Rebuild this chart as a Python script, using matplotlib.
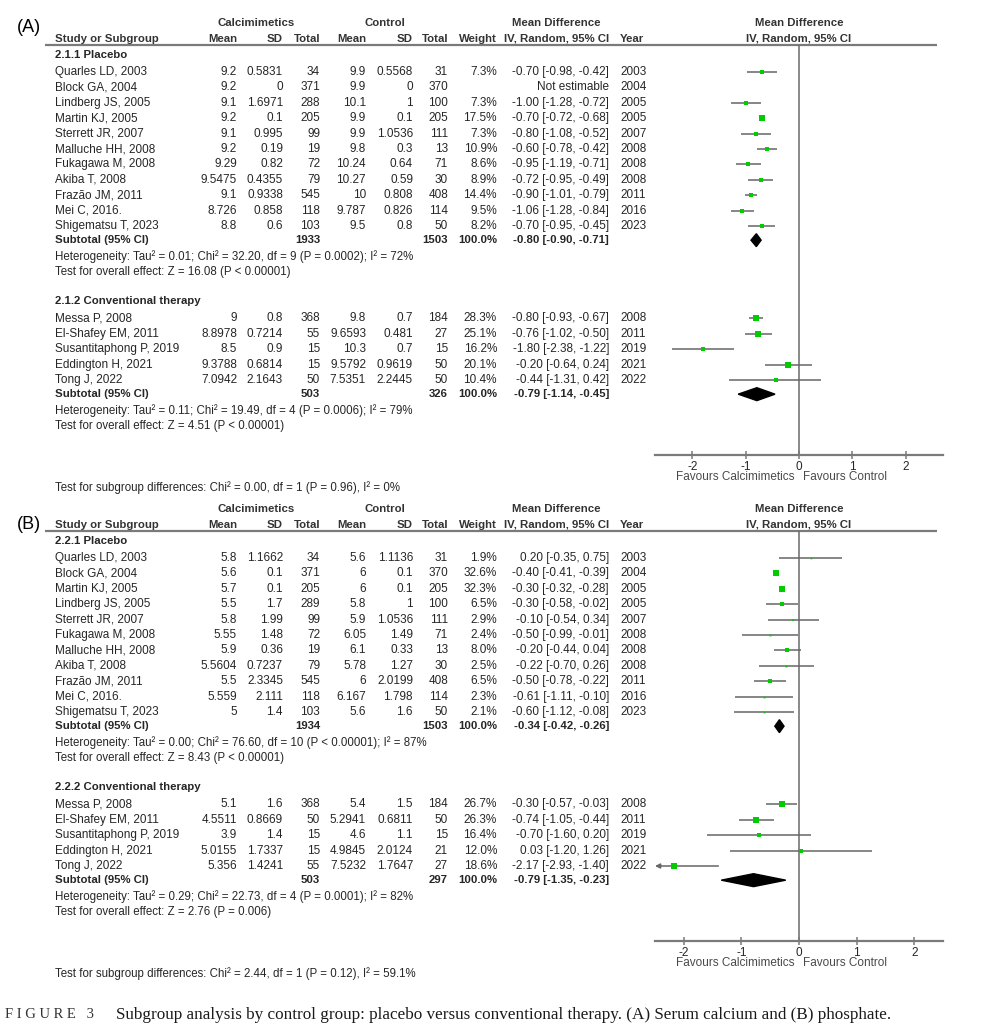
import matplotlib

matplotlib.use("Agg")

import matplotlib.pyplot as plt
from matplotlib.patches import Polygon

plt.rcParams["font.family"] = ["Liberation Sans", "DejaVu Sans"]

# ---------------- Panel A: serum calcium ----------------
A1_LABEL = "2.1.1 Placebo"
A1_STUDY = ["Quarles LD, 2003", "Block GA, 2004", "Lindberg JS, 2005", "Martin KJ, 2005",
            "Sterrett JR, 2007", "Malluche HH, 2008", "Fukagawa M, 2008", "Akiba T, 2008",
            "Frazão JM, 2011", "Mei C, 2016.", "Shigematsu T, 2023"]
A1_CAL_MEAN = ["9.2", "9.2", "9.1", "9.2", "9.1", "9.2", "9.29", "9.5475", "9.1", "8.726", "8.8"]
A1_CAL_SD = ["0.5831", "0", "1.6971", "0.1", "0.995", "0.19", "0.82", "0.4355", "0.9338", "0.858", "0.6"]
A1_CAL_N = [34, 371, 288, 205, 99, 19, 72, 79, 545, 118, 103]
A1_CTL_MEAN = ["9.9", "9.9", "10.1", "9.9", "9.9", "9.8", "10.24", "10.27", "10", "9.787", "9.5"]
A1_CTL_SD = ["0.5568", "0", "1", "0.1", "1.0536", "0.3", "0.64", "0.59", "0.808", "0.826", "0.8"]
A1_CTL_N = [31, 370, 100, 205, 111, 13, 71, 30, 408, 114, 50]
A1_WEIGHT = [7.3, None, 7.3, 17.5, 7.3, 10.9, 8.6, 8.9, 14.4, 9.5, 8.2]
A1_MD = [-0.70, None, -1.00, -0.70, -0.80, -0.60, -0.95, -0.72, -0.90, -1.06, -0.70]
A1_LO = [-0.98, None, -1.28, -0.72, -1.08, -0.78, -1.19, -0.95, -1.01, -1.28, -0.95]
A1_HI = [-0.42, None, -0.72, -0.68, -0.52, -0.42, -0.71, -0.49, -0.79, -0.84, -0.45]
A1_YEAR = [2003, 2004, 2005, 2005, 2007, 2008, 2008, 2008, 2011, 2016, 2023]
A1_TOTAL = [1933, 1503]
A1_POOLED = [-0.80, -0.90, -0.71]
A1_HET = "Heterogeneity: Tau² = 0.01; Chi² = 32.20, df = 9 (P = 0.0002); I² = 72%"
A1_TEST = "Test for overall effect: Z = 16.08 (P < 0.00001)"

A2_LABEL = "2.1.2 Conventional therapy"
A2_STUDY = ["Messa P, 2008", "El-Shafey EM, 2011", "Susantitaphong P, 2019", "Eddington H, 2021", "Tong J, 2022"]
A2_CAL_MEAN = ["9", "8.8978", "8.5", "9.3788", "7.0942"]
A2_CAL_SD = ["0.8", "0.7214", "0.9", "0.6814", "2.1643"]
A2_CAL_N = [368, 55, 15, 15, 50]
A2_CTL_MEAN = ["9.8", "9.6593", "10.3", "9.5792", "7.5351"]
A2_CTL_SD = ["0.7", "0.481", "0.7", "0.9619", "2.2445"]
A2_CTL_N = [184, 27, 15, 50, 50]
A2_WEIGHT = [28.3, 25.1, 16.2, 20.1, 10.4]
A2_MD = [-0.80, -0.76, -1.80, -0.20, -0.44]
A2_LO = [-0.93, -1.02, -2.38, -0.64, -1.31]
A2_HI = [-0.67, -0.50, -1.22, 0.24, 0.42]
A2_YEAR = [2008, 2011, 2019, 2021, 2022]
A2_TOTAL = [503, 326]
A2_POOLED = [-0.79, -1.14, -0.45]
A2_HET = "Heterogeneity: Tau² = 0.11; Chi² = 19.49, df = 4 (P = 0.0006); I² = 79%"
A2_TEST = "Test for overall effect: Z = 4.51 (P < 0.00001)"
A_SUBGROUP_TEST = "Test for subgroup differences: Chi² = 0.00, df = 1 (P = 0.96), I² = 0%"

# ---------------- Panel B: phosphate ----------------
B1_LABEL = "2.2.1 Placebo"
B1_STUDY = ["Quarles LD, 2003", "Block GA, 2004", "Martin KJ, 2005", "Lindberg JS, 2005",
            "Sterrett JR, 2007", "Fukagawa M, 2008", "Malluche HH, 2008", "Akiba T, 2008",
            "Frazão JM, 2011", "Mei C, 2016.", "Shigematsu T, 2023"]
B1_CAL_MEAN = ["5.8", "5.6", "5.7", "5.5", "5.8", "5.55", "5.9", "5.5604", "5.5", "5.559", "5"]
B1_CAL_SD = ["1.1662", "0.1", "0.1", "1.7", "1.99", "1.48", "0.36", "0.7237", "2.3345", "2.111", "1.4"]
B1_CAL_N = [34, 371, 205, 289, 99, 72, 19, 79, 545, 118, 103]
B1_CTL_MEAN = ["5.6", "6", "6", "5.8", "5.9", "6.05", "6.1", "5.78", "6", "6.167", "5.6"]
B1_CTL_SD = ["1.1136", "0.1", "0.1", "1", "1.0536", "1.49", "0.33", "1.27", "2.0199", "1.798", "1.6"]
B1_CTL_N = [31, 370, 205, 100, 111, 71, 13, 30, 408, 114, 50]
B1_WEIGHT = [1.9, 32.6, 32.3, 6.5, 2.9, 2.4, 8.0, 2.5, 6.5, 2.3, 2.1]
B1_MD = [0.20, -0.40, -0.30, -0.30, -0.10, -0.50, -0.20, -0.22, -0.50, -0.61, -0.60]
B1_LO = [-0.35, -0.41, -0.32, -0.58, -0.54, -0.99, -0.44, -0.70, -0.78, -1.11, -1.12]
B1_HI = [0.75, -0.39, -0.28, -0.02, 0.34, -0.01, 0.04, 0.26, -0.22, -0.10, -0.08]
B1_YEAR = [2003, 2004, 2005, 2005, 2007, 2008, 2008, 2008, 2011, 2016, 2023]
B1_TOTAL = [1934, 1503]
B1_POOLED = [-0.34, -0.42, -0.26]
B1_HET = "Heterogeneity: Tau² = 0.00; Chi² = 76.60, df = 10 (P < 0.00001); I² = 87%"
B1_TEST = "Test for overall effect: Z = 8.43 (P < 0.00001)"

B2_LABEL = "2.2.2 Conventional therapy"
B2_STUDY = ["Messa P, 2008", "El-Shafey EM, 2011", "Susantitaphong P, 2019", "Eddington H, 2021", "Tong J, 2022"]
B2_CAL_MEAN = ["5.1", "4.5511", "3.9", "5.0155", "5.356"]
B2_CAL_SD = ["1.6", "0.8669", "1.4", "1.7337", "1.4241"]
B2_CAL_N = [368, 50, 15, 15, 55]
B2_CTL_MEAN = ["5.4", "5.2941", "4.6", "4.9845", "7.5232"]
B2_CTL_SD = ["1.5", "0.6811", "1.1", "2.0124", "1.7647"]
B2_CTL_N = [184, 50, 15, 21, 27]
B2_WEIGHT = [26.7, 26.3, 16.4, 12.0, 18.6]
B2_MD = [-0.30, -0.74, -0.70, 0.03, -2.17]
B2_LO = [-0.57, -1.05, -1.60, -1.20, -2.93]
B2_HI = [-0.03, -0.44, 0.20, 1.26, -1.40]
B2_YEAR = [2008, 2011, 2019, 2021, 2022]
B2_TOTAL = [503, 297]
B2_POOLED = [-0.79, -1.35, -0.23]
B2_HET = "Heterogeneity: Tau² = 0.29; Chi² = 22.73, df = 4 (P = 0.0001); I² = 82%"
B2_TEST = "Test for overall effect: Z = 2.76 (P = 0.006)"
B_SUBGROUP_TEST = "Test for subgroup differences: Chi² = 2.44, df = 1 (P = 0.12), I² = 59.1%"

TICKS = [-2, -1, 0, 1, 2]
TICK_LABELS = ["-2", "-1", "0", "1", "2"]
CAPTION_TAG = "F I G U R E   3"
CAPTION = ("Subgroup analysis by control group: placebo versus conventional therapy. "
           "(A) Serum calcium and (B) phosphate.")

# ---------------- layout (pixels) ----------------
W, H = 997, 1024
ROW_STEP = 15.4
X_STUDY = 55
X_NUM = [237, 283, 320, 366, 413, 448]
X_WEIGHT = 497
X_CI = 609
X_YEAR = 620
FOREST_LEFT, FOREST_WIDTH = 655, 288
HEADER_LINE_ROW = -1.75
AXIS_ROW = 24.9

TEXT = "#262626"
GREEN = "#00cc00"
CI_GRAY = "#666666"
AXIS_GRAY = "#7a7a7a"
FS = 8.5
FS_SMALL = 8.3


def group(label, study, cal_mean, cal_sd, cal_n, ctl_mean, ctl_sd, ctl_n,
          weight, md, lo, hi, year, total, pooled, het, test):
    return dict(label=label, study=study, cal_mean=cal_mean, cal_sd=cal_sd, cal_n=cal_n,
                ctl_mean=ctl_mean, ctl_sd=ctl_sd, ctl_n=ctl_n, weight=weight, md=md,
                lo=lo, hi=hi, year=year, total=total, pooled=pooled, het=het, test=test)


def make_forest(fig, y0, xmax):
    top = y0 + ROW_STEP * HEADER_LINE_ROW
    bot = y0 + ROW_STEP * AXIS_ROW
    fx = fig.add_axes([FOREST_LEFT / W, 1 - bot / H, FOREST_WIDTH / W, (bot - top) / H])
    fx.set_xlim(-xmax, xmax)
    fx.set_ylim(AXIS_ROW, HEADER_LINE_ROW)
    fx.patch.set_visible(False)
    for side in ("top", "left", "right"):
        fx.spines[side].set_visible(False)
    fx.spines["bottom"].set_color(AXIS_GRAY)
    fx.spines["bottom"].set_linewidth(1.6)
    fx.set_yticks([])
    fx.set_xticks(TICKS)
    fx.set_xticklabels(TICK_LABELS)
    fx.tick_params(axis="x", direction="inout", length=6, width=1.1, colors=AXIS_GRAY,
                   labelcolor=TEXT, labelsize=FS, pad=1)
    fx.axvline(0, color="#6a6a6a", lw=1.1, zorder=1)
    fx.annotate("Favours Calcimimetics", xy=(0, 0), xycoords=("data", "axes fraction"),
                xytext=(-5, -22), textcoords="offset pixels", ha="right", va="center",
                fontsize=FS, color="#4a4a4a")
    fx.annotate("Favours Control", xy=(0, 0), xycoords=("data", "axes fraction"),
                xytext=(4, -22), textcoords="offset pixels", ha="left", va="center",
                fontsize=FS, color="#4a4a4a")
    return fx


def draw_header(canvas, y0, tag, tag_row):
    def ypx(r):
        return y0 + ROW_STEP * r

    canvas.text(17, ypx(tag_row), tag, fontsize=13, color="black", va="center", ha="left")
    bold = dict(fontsize=8.2, fontweight="bold", color="#333333", va="center")
    canvas.text(256, ypx(-3.15), "Calcimimetics", ha="center", **bold)
    canvas.text(385, ypx(-3.15), "Control", ha="center", **bold)
    canvas.text(556, ypx(-3.15), "Mean Difference", ha="center", **bold)
    canvas.text(799, ypx(-3.15), "Mean Difference", ha="center", **bold)
    canvas.text(X_STUDY, ypx(-2.15), "Study or Subgroup", ha="left", **bold)
    for x, s in zip(X_NUM, ["Mean", "SD", "Total", "Mean", "SD", "Total"]):
        canvas.text(x, ypx(-2.15), s, ha="right", **bold)
    canvas.text(X_WEIGHT, ypx(-2.15), "Weight", ha="right", **bold)
    canvas.text(X_CI, ypx(-2.15), "IV, Random, 95% CI", ha="right", **bold)
    canvas.text(X_YEAR, ypx(-2.15), "Year", ha="left", **bold)
    canvas.text(799, ypx(-2.15), "IV, Random, 95% CI", ha="center", **bold)
    canvas.plot([45, 937], [ypx(HEADER_LINE_ROW)] * 2, color=AXIS_GRAY, lw=1.6,
                solid_capstyle="butt")


def draw_group(canvas, fx, y0, first, g):
    def ypx(r):
        return y0 + ROW_STEP * r

    xmin = fx.get_xlim()[0]
    reg = dict(fontsize=FS, color=TEXT, va="center")
    bold = dict(fontsize=8.2, color=TEXT, va="center", fontweight="bold")
    canvas.text(X_STUDY, ypx(first - 1.1), g["label"], ha="left", **bold)
    n = len(g["study"])
    for i in range(n):
        r = first + i
        y = ypx(r)
        canvas.text(X_STUDY, y, g["study"][i], ha="left", **reg)
        cells = [g["cal_mean"][i], g["cal_sd"][i], str(g["cal_n"][i]),
                 g["ctl_mean"][i], g["ctl_sd"][i], str(g["ctl_n"][i])]
        for x, s in zip(X_NUM, cells):
            canvas.text(x, y, s, ha="right", **reg)
        canvas.text(X_YEAR, y, str(g["year"][i]), ha="left", **reg)
        md, lo, hi, w = g["md"][i], g["lo"][i], g["hi"][i], g["weight"][i]
        if md is None:
            canvas.text(X_CI, y, "Not estimable", ha="right", **reg)
            continue
        canvas.text(X_WEIGHT, y, f"{w:.1f}%", ha="right", **reg)
        canvas.text(X_CI, y, f"{md:.2f} [{lo:.2f}, {hi:.2f}]", ha="right", **reg)
        if lo < xmin:
            fx.annotate("", xy=(xmin, r), xytext=(hi, r),
                        arrowprops=dict(arrowstyle="-|>", color=CI_GRAY, lw=1.1,
                                        shrinkA=0, shrinkB=0, mutation_scale=7))
        else:
            fx.plot([lo, hi], [r, r], color=CI_GRAY, lw=1.1, solid_capstyle="butt", zorder=2)
        side_px = 1.2 * w ** 0.5
        fx.plot(md, r, marker="s", ms=side_px * 72 / 100, color=GREEN, mec=GREEN, mew=0,
                zorder=3, clip_on=False)

    rs = first + n - 0.08
    ys = ypx(rs)
    canvas.text(X_STUDY, ys, "Subtotal (95% CI)", ha="left", **bold)
    canvas.text(X_NUM[2], ys, str(g["total"][0]), ha="right", **bold)
    canvas.text(X_NUM[5], ys, str(g["total"][1]), ha="right", **bold)
    canvas.text(X_WEIGHT, ys, "100.0%", ha="right", **bold)
    md, lo, hi = g["pooled"]
    canvas.text(X_CI, ys, f"{md:.2f} [{lo:.2f}, {hi:.2f}]", ha="right", **bold)
    fx.add_patch(Polygon([(lo, rs), (md, rs - 0.42), (hi, rs), (md, rs + 0.42)],
                         closed=True, color="black", zorder=3))
    small = dict(fontsize=FS_SMALL, color=TEXT, va="center", ha="left")
    canvas.text(X_STUDY, ypx(first + n + 1), g["het"], **small)
    canvas.text(X_STUDY, ypx(first + n + 2), g["test"], **small)


fig = plt.figure(figsize=(W / 100, H / 100), dpi=100)
canvas = fig.add_axes([0, 0, 1, 1])
canvas.set_xlim(0, W)
canvas.set_ylim(H, 0)
canvas.axis("off")

panels = [
    dict(y0=72, tag="(A)", tag_row=-2.9, xmax=2.7,
         groups=[group(A1_LABEL, A1_STUDY, A1_CAL_MEAN, A1_CAL_SD, A1_CAL_N, A1_CTL_MEAN,
                       A1_CTL_SD, A1_CTL_N, A1_WEIGHT, A1_MD, A1_LO, A1_HI, A1_YEAR,
                       A1_TOTAL, A1_POOLED, A1_HET, A1_TEST),
                 group(A2_LABEL, A2_STUDY, A2_CAL_MEAN, A2_CAL_SD, A2_CAL_N, A2_CTL_MEAN,
                       A2_CTL_SD, A2_CTL_N, A2_WEIGHT, A2_MD, A2_LO, A2_HI, A2_YEAR,
                       A2_TOTAL, A2_POOLED, A2_HET, A2_TEST)],
         subgroup=A_SUBGROUP_TEST),
    dict(y0=558, tag="(B)", tag_row=-2.15, xmax=2.5,
         groups=[group(B1_LABEL, B1_STUDY, B1_CAL_MEAN, B1_CAL_SD, B1_CAL_N, B1_CTL_MEAN,
                       B1_CTL_SD, B1_CTL_N, B1_WEIGHT, B1_MD, B1_LO, B1_HI, B1_YEAR,
                       B1_TOTAL, B1_POOLED, B1_HET, B1_TEST),
                 group(B2_LABEL, B2_STUDY, B2_CAL_MEAN, B2_CAL_SD, B2_CAL_N, B2_CTL_MEAN,
                       B2_CTL_SD, B2_CTL_N, B2_WEIGHT, B2_MD, B2_LO, B2_HI, B2_YEAR,
                       B2_TOTAL, B2_POOLED, B2_HET, B2_TEST)],
         subgroup=B_SUBGROUP_TEST),
]

for panel in panels:
    y0 = panel["y0"]
    fx = make_forest(fig, y0, panel["xmax"])
    draw_header(canvas, y0, panel["tag"], panel["tag_row"])
    draw_group(canvas, fx, y0, 0, panel["groups"][0])
    draw_group(canvas, fx, y0, 16, panel["groups"][1])
    canvas.text(X_STUDY, y0 + ROW_STEP * 27, panel["subgroup"], fontsize=FS_SMALL,
                color=TEXT, va="center", ha="left")

canvas.text(5, 1015, CAPTION_TAG, family="Liberation Serif", fontsize=10.5, color="#333333",
            va="center", ha="left")
canvas.text(116, 1015, CAPTION, family="Liberation Serif", fontsize=12.3, color="#1a1a1a",
            va="center", ha="left")

fig.savefig("out.png", dpi=100)
plt.close(fig)
